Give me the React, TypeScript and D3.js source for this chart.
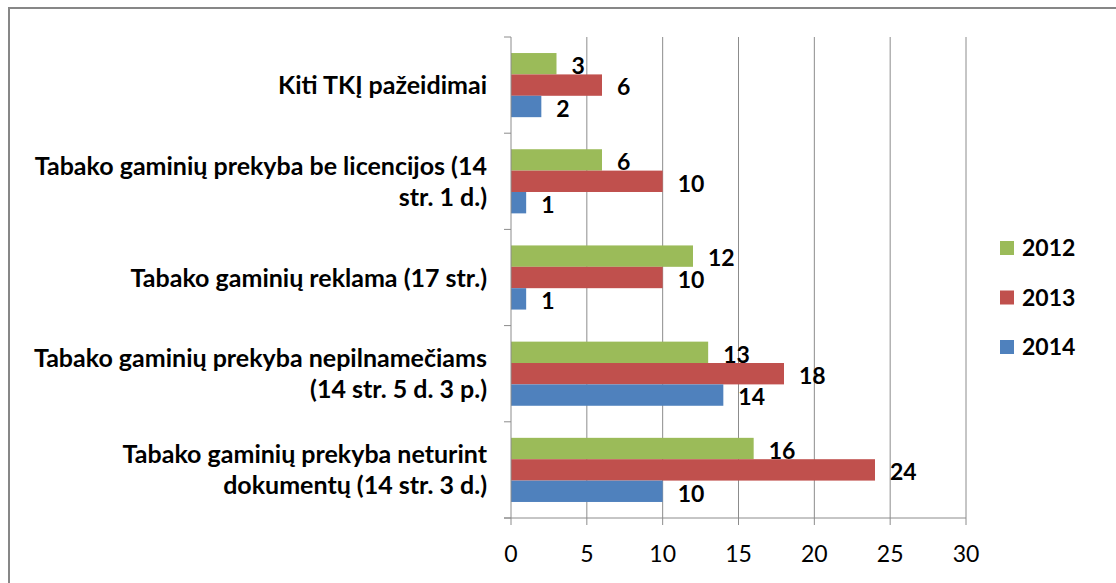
import React from "react";
import * as d3 from "d3";

// categories top to bottom, each label split into its lines
const categories = [
  "Kiti TKĮ pažeidimai",
  "Tabako gaminių prekyba be licencijos (14 str. 1 d.)",
  "Tabako gaminių reklama (17 str.)",
  "Tabako gaminių prekyba nepilnamečiams (14 str. 5 d. 3 p.)",
  "Tabako gaminių prekyba neturint dokumentų (14 str. 3 d.)",
];
const categoryLines = [
  ["Kiti TKĮ pažeidimai"],
  ["Tabako gaminių prekyba be licencijos (14", "str. 1 d.)"],
  ["Tabako gaminių reklama (17 str.)"],
  ["Tabako gaminių prekyba nepilnamečiams", "(14 str. 5 d. 3 p.)"],
  ["Tabako gaminių prekyba neturint", "dokumentų (14 str. 3 d.)"],
];

const series = ["2012", "2013", "2014"];
const values2012 = [3, 6, 12, 13, 16];
const values2013 = [6, 10, 10, 18, 24];
const values2014 = [2, 1, 1, 14, 10];
const seriesValues = [values2012, values2013, values2014];
const seriesColors = ["#9BBB59", "#C0504D", "#4F81BD"];

const xTicks = [0, 5, 10, 15, 20, 25, 30];

const W = 1116;
const H = 583;
const FONT = "Lato, Carlito, Calibri, 'Open Sans', sans-serif";

export default function App() {
  const x = d3.scaleLinear().domain([0, 30]).range([511, 966]);
  const y = d3.scaleBand<string>().domain(categories).range([37, 518]).padding(0);
  // Excel-like gap width of 150%
  const inner = d3
    .scaleBand<string>()
    .domain(series)
    .range([0, y.bandwidth()])
    .paddingInner(0)
    .paddingOuter(0.75);

  const lineGap = 31;
  const gridColor = "#8c8c8c";

  return (
    <svg
      width={W}
      height={H}
      style={{ position: "absolute", left: 0, top: 0, background: "#fff" }}
      fontFamily={FONT}
    >
      {/* chart frame */}
      <rect x={9} y={8} width={W + 20} height={H + 20} fill="#fff" stroke="#878787" strokeWidth={2} />

      {/* vertical gridlines */}
      {xTicks.slice(1).map((t) => (
        <line key={"g" + t} x1={x(t)} x2={x(t)} y1={y.range()[0]} y2={y.range()[1]} stroke={gridColor} strokeWidth={1} />
      ))}

      {/* bars */}
      {categories.map((c, ci) => (
        <g key={c} transform={`translate(0,${y(c)})`}>
          {series.map((s, si) => (
            <rect
              key={s}
              x={x(0)}
              y={inner(s)}
              width={x(seriesValues[si][ci]) - x(0)}
              height={inner.bandwidth()}
              fill={seriesColors[si]}
            />
          ))}
          {series.map((s, si) => (
            <text
              key={"v" + s}
              x={x(seriesValues[si][ci]) + 15}
              y={(inner(s) as number) + inner.bandwidth() / 2 + 2}
              dy="0.36em"
              fontSize={23}
              fontWeight="bold"
              fill="#000"
            >
              {seriesValues[si][ci]}
            </text>
          ))}
        </g>
      ))}

      {/* value axis line and ticks */}
      <line x1={x(0) - 7} x2={x(30)} y1={y.range()[1]} y2={y.range()[1]} stroke={gridColor} strokeWidth={1} />
      {xTicks.map((t) => (
        <line key={"t" + t} x1={x(t)} x2={x(t)} y1={y.range()[1]} y2={y.range()[1] + 7} stroke={gridColor} />
      ))}
      {xTicks.map((t) => (
        <text key={"l" + t} x={x(t)} y={562} textAnchor="middle" fontSize={23} fill="#000">
          {t}
        </text>
      ))}

      {/* category axis */}
      <line x1={x(0)} x2={x(0)} y1={y.range()[0]} y2={y.range()[1]} stroke={gridColor} strokeWidth={1} />
      {[...categories.map((c) => y(c) as number), y.range()[1]].map((v, i) => (
        <line key={"ct" + i} x1={x(0) - 7} x2={x(0)} y1={v} y2={v} stroke={gridColor} />
      ))}
      {categories.map((c, ci) => {
        const lines = categoryLines[ci];
        const mid = (y(c) as number) + y.bandwidth() / 2;
        const first = mid - ((lines.length - 1) * lineGap) / 2;
        return (
          <text key={"c" + c} x={487} textAnchor="end" fontSize={25} fontWeight="bold" fill="#000">
            {lines.map((ln, li) => (
              <tspan key={li} x={487} y={first + li * lineGap} dy="0.36em">
                {ln}
              </tspan>
            ))}
          </text>
        );
      })}

      {/* legend */}
      {series.map((s, si) => {
        const cy = 248 + si * 49.5;
        return (
          <g key={"lg" + s}>
            <rect x={1000} y={cy - 7} width={14} height={14} fill={seriesColors[si]} />
            <text x={1022} y={cy} dy="0.36em" fontSize={23} fontWeight="bold" fill="#000">
              {s}
            </text>
          </g>
        );
      })}
    </svg>
  );
}
